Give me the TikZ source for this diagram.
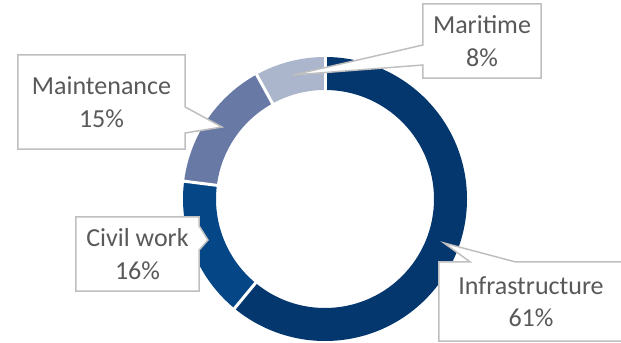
\documentclass[tikz,border=0pt]{standalone}
\usepackage{fontspec}
\setmainfont{Carlito}
\definecolor{infra}{HTML}{04376E}
\definecolor{civil}{HTML}{054687}
\definecolor{maint}{HTML}{6879A6}
\definecolor{marit}{HTML}{ABB5CB}
\definecolor{boxgray}{HTML}{BFBFBF}
\definecolor{textgray}{HTML}{595959}
\begin{document}
\begin{tikzpicture}[x=1bp,y=1bp,
  lbl/.style={fill=white, inner sep=0pt, align=center, text=textgray,
    font=\fontsize{26bp}{32.5bp}\selectfont},
  calloutline/.style={draw=boxgray, line width=1.5bp, line join=miter},
  sepline/.style={draw=white, line width=3bp}]
\useasboundingbox (0,0) rectangle (621,342);
% donut
\begin{scope}[shift={(325,143)}]
  \fill[infra] (90:142) arc[start angle=90,end angle=-129.6,radius=142]
     -- (-129.6:109) arc[start angle=-129.6,end angle=90,radius=109] -- cycle;
  \fill[civil] (-129.6:142) arc[start angle=-129.6,end angle=-187.2,radius=142]
     -- (-187.2:109) arc[start angle=-187.2,end angle=-129.6,radius=109] -- cycle;
  \fill[maint] (172.8:142) arc[start angle=172.8,end angle=118.8,radius=142]
     -- (118.8:109) arc[start angle=118.8,end angle=172.8,radius=109] -- cycle;
  \fill[marit] (118.8:142) arc[start angle=118.8,end angle=90,radius=142]
     -- (90:109) arc[start angle=90,end angle=118.8,radius=109] -- cycle;
  \foreach \a in {90,-129.6,172.8,118.8}
    \draw[sepline] (\a:107) -- (\a:144);
\end{scope}
% label boxes
\node[lbl, minimum width=118bp, minimum height=74bp] (mar) at (482,301) {Maritime\\8\%};
\node[lbl, minimum width=167bp, minimum height=94bp] (mnt) at (101.5,240) {Maintenance\\15\%};
\node[lbl, minimum width=123bp, minimum height=74bp] (civ) at (137.5,88) {Civil work\\16\%};
\node[lbl, minimum width=184bp, minimum height=79bp] (inf) at (531,40.5) {Infrastructure\\61\%};
\coordinate (martip) at (293,267);
\coordinate (mnttip) at (222,215);
\coordinate (civtip) at (208,102);
\coordinate (inftip) at (444,99);
% Maritime callout
\fill[white] (mar.west |- 0,277) -- (martip) -- (mar.west |- 0,297) -- cycle;
\draw[calloutline] (mar.north west) -- (mar.north east) -- (mar.south east) -- (mar.south west)
  -- (mar.west |- 0,277) -- (martip) -- (mar.west |- 0,297) -- cycle;
% Maintenance callout
\fill[white] (mnt.east |- 0,235) -- (mnttip) -- (mnt.east |- 0,209) -- cycle;
\draw[calloutline] (mnt.north west) -- (mnt.north east) -- (mnt.east |- 0,235) -- (mnttip)
  -- (mnt.east |- 0,209) -- (mnt.south east) -- (mnt.south west) -- cycle;
% Civil work callout
\fill[white] (civ.east |- 0,116) -- (civtip) -- (civ.east |- 0,92) -- cycle;
\draw[calloutline] (civ.north west) -- (civ.north east) -- (civ.east |- 0,116) -- (civtip)
  -- (civ.east |- 0,92) -- (civ.south east) -- (civ.south west) -- cycle;
% Infrastructure callout
\fill[white] (inf.north -| 470,0) -- (inftip) -- (inf.north -| 515,0) -- cycle;
\draw[calloutline] (inf.north west) -- (inf.north -| 470,0) -- (inftip) -- (inf.north -| 515,0)
  -- (inf.north east) -- (inf.south east) -- (inf.south west) -- cycle;
\end{tikzpicture}
\end{document}
